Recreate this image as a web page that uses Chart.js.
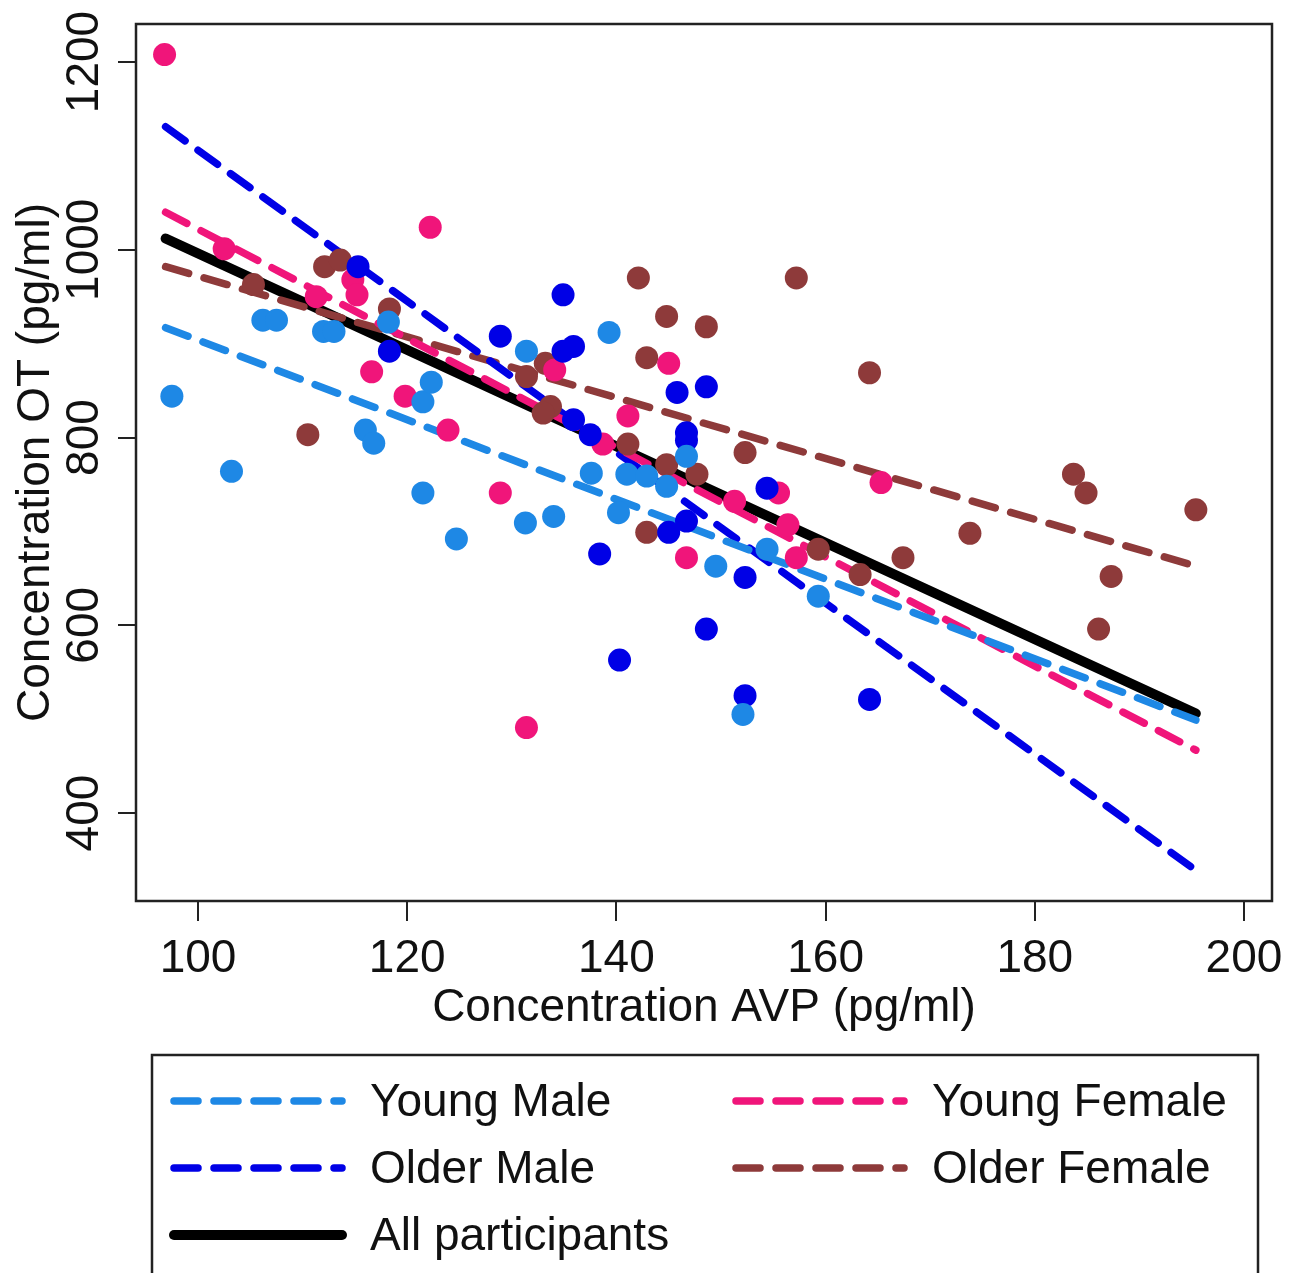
<!DOCTYPE html>
<html>
<head>
<meta charset="utf-8">
<script src="https://cdn.jsdelivr.net/npm/chart.js@4.4.1/dist/chart.umd.min.js"></script>
<style>
  html, body { margin:0; padding:0; background:#fff; overflow:hidden; }
  #wrap { width:1299px; height:1273px; }
</style>
</head>
<body>
<div id="wrap"><canvas id="c" width="1299" height="1273"></canvas></div>
<script>
// ── data ──
var xTicks = [100, 120, 140, 160, 180, 200];
var yTicks = [400, 600, 800, 1000, 1200];
var xTitle = 'Concentration AVP (pg/ml)';
var yTitle = 'Concentration OT (pg/ml)';

// scatter points per group (AVP, OT)
var youngMaleX = [97.5, 103.2, 106.2, 107.5, 112, 113, 118.2, 116, 116.8, 121.5, 122.3, 121.5, 124.7, 131.3, 134, 131.4, 139.3, 137.6, 141, 142.9, 144.8, 146.7, 140.2, 149.5, 154.4, 159.3, 152.1];
var youngMaleY = [844, 764, 925, 925, 913, 913, 923, 808, 794, 838, 859, 741, 692, 709, 716, 892, 912, 762, 761, 759, 748, 780, 720, 663, 681, 631, 505];

var olderMaleX = [115.3, 118.3, 128.9, 134.9, 134.9, 135.9, 135.9, 137.5, 145.8, 148.6, 146.7, 146.7, 154.4, 145, 146.7, 138.4, 152.3, 148.6, 140.3, 152.3, 164.2];
var olderMaleY = [982, 892, 908, 952, 892, 897, 819, 803, 848, 854, 805, 797, 746, 699, 711, 676, 651, 596, 563, 525, 521];

var youngFemaleX = [96.8, 102.5, 122.2, 111.3, 114.8, 115.2, 116.6, 119.8, 123.9, 128.9, 131.4, 134.1, 145, 141.1, 138.7, 155.5, 151.3, 156.4, 146.7, 157.2, 165.3];
var youngFemaleY = [1208, 1001, 1024, 950, 968, 952, 870, 844, 808, 741, 491, 872, 879, 823, 793, 741, 732, 707, 672, 672, 752];

var olderFemaleX = [105.3, 112.1, 113.6, 118.3, 110.5, 142.1, 157.2, 144.8, 148.6, 133.2, 131.4, 142.9, 164.2, 133.7, 133, 141.1, 152.3, 144.8, 147.7, 142.9, 159.3, 163.3, 183.7, 184.9, 195.4, 173.8, 167.4, 187.3, 186.1];
var olderFemaleY = [963, 982, 989, 937, 803, 970, 970, 929, 918, 879, 865, 885, 869, 833, 826, 793, 784, 771, 761, 699, 681, 654, 761, 741, 723, 698, 672, 652, 596];

// fitted lines, start and end of the AVP range
var fitX = [96.9, 195.4];
var fitYoungMale = [917, 499];
var fitOlderMale = [1131, 339];
var fitYoungFemale = [1040, 467];
var fitOlderFemale = [982, 663];
var fitAll = [1012, 506];

var colors = { ym:'#1e88e5', om:'#0000e6', yf:'#f0157a', of:'#8e3a3a', all:'#000000' };
var FONT = '"Liberation Sans", Arial, sans-serif';

function pts(xs, ys) { return xs.map(function(x, i){ return {x:x, y:ys[i]}; }); }

function scatterSet(xs, ys, c) {
  return { type:'scatter', data:pts(xs, ys), backgroundColor:c, borderWidth:0,
           pointRadius:11.5, pointHoverRadius:11.5, order:0 };
}
function fitSet(label, ys, c, w, dash) {
  return { type:'scatter', label:label, data:pts(fitX, ys), showLine:true, borderColor:c,
           borderWidth:w, borderDash:dash, borderCapStyle:'round', pointRadius:0, order:1, fill:false };
}

var dash = [24, 16];
var lineSets = [
  fitSet('Young Male', fitYoungMale, colors.ym, 7.5, dash),
  fitSet('Young Female', fitYoungFemale, colors.yf, 7.5, dash),
  fitSet('Older Male', fitOlderMale, colors.om, 7.5, dash),
  fitSet('Older Female', fitOlderFemale, colors.of, 7.5, dash),
  fitSet('All participants', fitAll, colors.all, 10, [])
];

// plot frame, rotated y labels and the boxed legend
var extras = {
  id:'extras',
  afterDraw:function(chart){
    var ctx = chart.ctx, a = chart.chartArea, ys = chart.scales.y;
    ctx.save();
    ctx.strokeStyle = '#222'; ctx.lineWidth = 2.5; ctx.setLineDash([]);
    ctx.strokeRect(a.left, a.top, a.right - a.left, a.bottom - a.top);

    ctx.fillStyle = '#111'; ctx.font = '46px ' + FONT;
    ctx.textAlign = 'center'; ctx.textBaseline = 'middle';
    yTicks.forEach(function(v){
      ctx.save(); ctx.translate(85, ys.getPixelForValue(v)); ctx.rotate(-Math.PI/2);
      ctx.fillText(String(v), 0, 0); ctx.restore();
    });
    ctx.save(); ctx.translate(36, (a.top + a.bottom)/2); ctx.rotate(-Math.PI/2);
    ctx.fillText(yTitle, 0, 0); ctx.restore();

    // legend box
    ctx.strokeStyle = '#222'; ctx.lineWidth = 2.5;
    ctx.strokeRect(152, 1055, 1106, 260);
    var cells = [[170,1101],[732,1101],[170,1168],[732,1168],[170,1235]];
    ctx.textAlign = 'left';
    lineSets.forEach(function(ds, i){
      var p = cells[i];
      ctx.save();
      ctx.strokeStyle = ds.borderColor; ctx.lineWidth = ds.borderWidth; ctx.lineCap = 'round';
      ctx.setLineDash(ds.borderDash);
      ctx.beginPath(); ctx.moveTo(p[0] + 4, p[1]); ctx.lineTo(p[0] + 172, p[1]); ctx.stroke();
      ctx.restore();
      ctx.fillStyle = '#111';
      ctx.fillText(ds.label, p[0] + 200, p[1] + 2);
    });
    ctx.restore();
  }
};

var chart = new Chart(document.getElementById('c'), {
  type:'scatter',
  data:{ datasets:[
    scatterSet(youngMaleX, youngMaleY, colors.ym),
    scatterSet(olderMaleX, olderMaleY, colors.om),
    scatterSet(youngFemaleX, youngFemaleY, colors.yf),
    scatterSet(olderFemaleX, olderFemaleY, colors.of)
  ].concat(lineSets) },
  options:{
    responsive:false, animation:false,
    layout:{ padding:{ top:24, right:27, left:0, bottom:237 } },
    plugins:{ legend:{ display:false }, tooltip:{ enabled:false } },
    scales:{
      x:{
        type:'linear', min:94.07, max:202.68,
        afterBuildTicks:function(s){ s.ticks = xTicks.map(function(v){ return {value:v}; }); },
        afterFit:function(s){ s.height = 135; },
        grid:{ drawOnChartArea:false, drawTicks:true, tickLength:20, color:'#222', lineWidth:2 },
        border:{ display:false },
        ticks:{ color:'#111', font:{ size:46, family:FONT }, padding:11, maxRotation:0 },
        title:{ display:true, text:xTitle, color:'#111', font:{ size:46, family:FONT }, padding:{ top:0, bottom:0 } }
      },
      y:{
        type:'linear', min:306.3, max:1240.5,
        afterBuildTicks:function(s){ s.ticks = yTicks.map(function(v){ return {value:v}; }); },
        afterFit:function(s){ s.width = 136; },
        grid:{ drawOnChartArea:false, drawTicks:true, tickLength:18, color:'#222', lineWidth:2 },
        border:{ display:false },
        ticks:{ display:false }
      }
    }
  },
  plugins:[extras]
});
</script>
</body>
</html>
